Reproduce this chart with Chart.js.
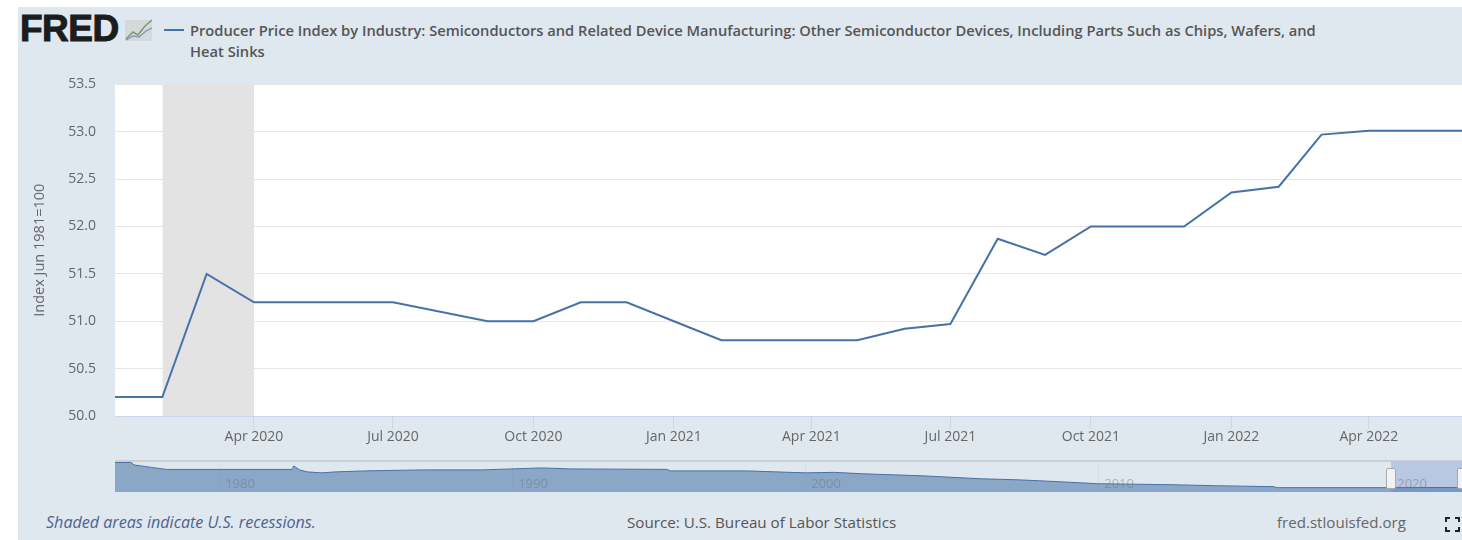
<!DOCTYPE html>
<html>
<head>
<meta charset="utf-8">
<title>FRED chart</title>
<script src="https://cdn.jsdelivr.net/npm/chart.js@4/dist/chart.umd.min.js"></script>
<style>
    html, body { margin: 0; padding: 0; background: #fff; overflow: hidden; }
    #panel { position: absolute; left: 18px; top: 7px; width: 1444px; height: 533px; background: #dfe7ef; }
    .txt { position: absolute; font-family: "Open Sans", sans-serif; white-space: nowrap; }
    #logo { left: 20px; top: 9px; font: 900 37px/40px "Liberation Sans", sans-serif; color: #1c1c1c; letter-spacing: -0.5px; -webkit-text-stroke: 1px #1c1c1c; }
    #legendKey { position: absolute; left: 164px; top: 29px; width: 20px; height: 2px; background: #4572a7; }
    #title { left: 190px; top: 20px; font-size: 14.7px; line-height: 21px; color: #555; font-weight: 600; white-space: normal; width: 1140px; }
    #mainWrap { position: absolute; left: 18px; top: 57px; width: 1444px; height: 398px; }
    #navWrap { position: absolute; left: 115px; top: 455px; width: 1347px; height: 38px; }
    .handle { position: absolute; top: 468px; width: 8px; height: 19px; background: #f2f2f2; border: 1px solid #aaa; border-radius: 2px; }
    #foot1 { left: 46px; top: 511px; font-size: 16.1px; font-style: italic; color: #4d6390; }
    #foot2 { left: 627px; top: 512px; font-size: 15.2px; color: #555; }
    #foot3 { left: 1277px; top: 512px; font-size: 15.1px; color: #666; }
    #icon { position: absolute; left: 124px; top: 17px; }
    #fs { position: absolute; left: 1444px; top: 516px; }
</style>
</head>
<body>
<div id="panel"></div>
<div id="logo" class="txt">FRED</div>
<svg id="icon" width="30" height="26" viewBox="0 0 30 26">
    <rect x="1" y="3" width="27" height="21" fill="#d5d9dc"/>
    <polyline points="2,22 9,15 14,18 21,9 28,3" fill="none" stroke="#7c9a6c" stroke-width="1.5"/>
    <polyline points="2,23 9,19 15,20 22,14 28,11" fill="none" stroke="#7a94b5" stroke-width="1.2"/>
</svg>
<div id="legendKey"></div>
<div id="title" class="txt">Producer Price Index by Industry: Semiconductors and Related Device Manufacturing: Other Semiconductor Devices, Including Parts Such as Chips, Wafers, and Heat Sinks</div>
<div id="mainWrap"><canvas id="mainChart"></canvas></div>
<div id="navWrap"><canvas id="navChart"></canvas></div>
<div class="handle" style="left:1386px"></div>
<div class="handle" style="left:1457px"></div>
<div id="foot1" class="txt">Shaded areas indicate U.S. recessions.</div>
<div id="foot2" class="txt">Source: U.S. Bureau of Labor Statistics</div>
<div id="foot3" class="txt">fred.stlouisfed.org</div>
<svg id="fs" width="17" height="17" viewBox="0 0 17 17" fill="none" stroke="#222" stroke-width="2">
    <path d="M2 6V2H6M11 2H15V6M15 11V15H11M6 15H2V11"/>
</svg>

<script>
// monthly values
const months = ['2020-01-01','2020-02-01','2020-03-01','2020-04-01','2020-05-01','2020-06-01',
    '2020-07-01','2020-08-01','2020-09-01','2020-10-01','2020-11-01','2020-12-01',
    '2021-01-01','2021-02-01','2021-03-01','2021-04-01','2021-05-01','2021-06-01',
    '2021-07-01','2021-08-01','2021-09-01','2021-10-01','2021-11-01','2021-12-01',
    '2022-01-01','2022-02-01','2022-03-01','2022-04-01','2022-05-01','2022-06-01'];
const ppiValues = [50.2, 50.2, 51.5, 51.2, 51.2, 51.2,
    51.2, 51.1, 51.0, 51.0, 51.2, 51.2,
    51.0, 50.8, 50.8, 50.8, 50.8, 50.92,
    50.97, 51.87, 51.7, 52.0, 52.0, 52.0,
    52.36, 52.42, 52.97, 53.01, 53.01, 53.01];
const recession = ['2020-02-01', '2020-04-01'];
const tickDates = ['2020-04-01','2020-07-01','2020-10-01','2021-01-01','2021-04-01','2021-07-01','2021-10-01','2022-01-01','2022-04-01'];
const tickLabels = ['Apr 2020','Jul 2020','Oct 2020','Jan 2021','Apr 2021','Jul 2021','Oct 2021','Jan 2022','Apr 2022'];
const yTicks = [50.0, 50.5, 51.0, 51.5, 52.0, 52.5, 53.0, 53.5];

// navigator series, full history
const navYears = [1976.45, 1977, 1977.1, 1977.7, 1978.2, 1982.5, 1982.55, 1982.75, 1983, 1983.5, 1984, 1985,
    1987, 1989, 1990, 1991, 1992, 1995.3, 1995.4, 1998, 1999, 2000, 2001, 2002, 2004, 2006, 2007.2, 2008,
    2010, 2012.5, 2014, 2016, 2016.1, 2020, 2022.42];
const navValues = [96.8, 96.8, 92.3, 87.8, 84.2, 84.2, 90.5, 83.3, 79.7, 77.9, 79.7, 81.5,
    83.3, 83.3, 85.1, 86.9, 85.1, 84.2, 81.5, 81.5, 79.7, 77.9, 78.8, 76.1, 72.5, 67.1, 65.3, 63.5,
    58.1, 56.3, 54.5, 52.7, 50.9, 50.9, 51.3];
const navSelection = [2020, 2022.42];
const navTicks = [1980, 1990, 2000, 2010, 2020];

const toTime = (d) => Date.parse(d + 'T00:00:00Z');
const yMin = 50, yMax = 53.5;
const navMin = 43, navMax = 99.5;

// white plot background
const plotBackground = {
    id: 'plotBackground',
    beforeDraw(chart) {
        const a = chart.chartArea;
        chart.ctx.fillStyle = '#fff';
        chart.ctx.fillRect(a.left, a.top, a.width, a.height);
    }
};

new Chart(document.getElementById('mainChart'), {
    type: 'line',
    plugins: [plotBackground],
    data: {
        datasets: [{
            data: months.map((m, i) => ({ x: toTime(m), y: ppiValues[i] })),
            borderColor: '#4572a7',
            borderWidth: 2,
            pointRadius: 0,
            tension: 0,
            order: 1
        }, {
            data: recession.map((m) => ({ x: toTime(m), y: yMax })),
            borderWidth: 0,
            backgroundColor: '#e3e3e3',
            pointRadius: 0,
            fill: 'origin',
            order: 2
        }]
    },
    options: {
        responsive: true,
        maintainAspectRatio: false,
        animation: false,
        layout: { padding: { top: 14, right: 0, left: 0, bottom: 0 } },
        plugins: { legend: { display: false }, tooltip: { enabled: false } },
        scales: {
            x: {
                type: 'linear',
                min: toTime(months[0]),
                max: toTime(months[months.length - 1]),
                afterBuildTicks: (axis) => { axis.ticks = tickDates.map((d) => ({ value: toTime(d) })); },
                afterFit: (axis) => { axis.height = 39; },
                grid: { drawOnChartArea: false, drawTicks: true, tickLength: 13, tickColor: '#ccd6eb' },
                border: { color: '#ccd6eb' },
                ticks: {
                    autoSkip: false,
                    maxRotation: 0,
                    padding: 0,
                    color: '#666',
                    font: { family: 'Open Sans', size: 14 },
                    callback: (v) => tickLabels[tickDates.findIndex((d) => toTime(d) === v)]
                }
            },
            y: {
                min: yMin,
                max: yMax,
                afterBuildTicks: (axis) => { axis.ticks = yTicks.map((v) => ({ value: v })); },
                afterFit: (axis) => { axis.width = 97; },
                grid: { color: '#e6e6e6', drawTicks: false },
                border: { display: false },
                ticks: {
                    padding: 19,
                    color: '#666',
                    font: { family: 'Open Sans', size: 14 },
                    callback: (v) => v.toFixed(1)
                },
                title: {
                    display: true,
                    text: 'Index Jun 1981=100',
                    color: '#666',
                    font: { family: 'Open Sans', size: 14.5 },
                    padding: { top: 13, bottom: 0 }
                }
            }
        }
    }
});

new Chart(document.getElementById('navChart'), {
    type: 'line',
    data: {
        datasets: [{
            data: navYears.map((x, i) => ({ x: x, y: navValues[i] })),
            borderColor: '#4572a7',
            borderWidth: 1,
            backgroundColor: 'rgba(69,114,167,0.55)',
            pointRadius: 0,
            tension: 0,
            fill: 'origin',
            order: 1
        }, {
            data: navSelection.map((x) => ({ x: x, y: navMax })),
            borderWidth: 0,
            backgroundColor: '#b8c8e2',
            pointRadius: 0,
            fill: 'origin',
            order: 2
        }]
    },
    options: {
        responsive: true,
        maintainAspectRatio: false,
        animation: false,
        layout: { padding: { top: 6, bottom: 1 } },
        plugins: { legend: { display: false }, tooltip: { enabled: false } },
        scales: {
            x: {
                type: 'linear',
                min: navYears[0],
                max: navYears[navYears.length - 1],
                afterBuildTicks: (axis) => { axis.ticks = navTicks.map((v) => ({ value: v })); },
                afterFit: (axis) => { axis.height = 0; },
                grid: { color: 'rgba(180,180,180,0.18)', drawTicks: false },
                border: { display: false },
                ticks: {
                    z: 1,
                    mirror: true,
                    autoSkip: false,
                    maxRotation: 0,
                    padding: 0,
                    labelOffset: 21,
                    color: 'rgba(110,110,110,0.45)',
                    font: { family: 'Open Sans', size: 13 },
                    callback: (v) => String(v)
                }
            },
            y: {
                display: true,
                min: navMin,
                max: navMax,
                afterBuildTicks: (axis) => { axis.ticks = [{ value: navMax }]; },
                afterFit: (axis) => { axis.width = 0; },
                grid: { color: '#cfcfcf', lineWidth: 2, drawTicks: false },
                border: { display: false },
                ticks: { display: false }
            }
        }
    }
});
</script>
</body>
</html>
